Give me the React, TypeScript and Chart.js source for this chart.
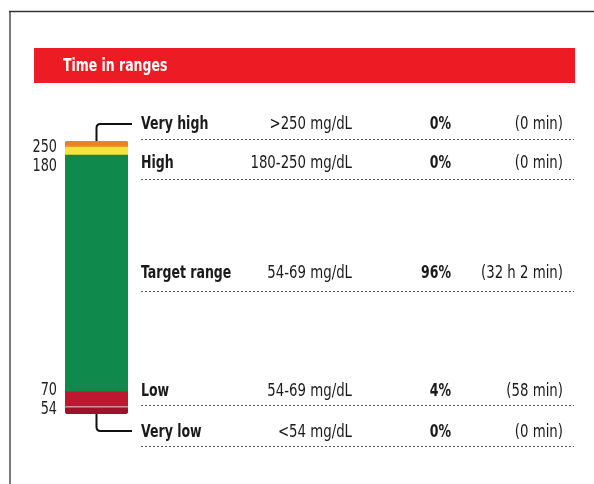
import React, { useEffect, useRef } from "react";
import { Chart, registerables } from "chart.js";

Chart.register(...registerables);

const title = "Time in ranges";
// stacked bottom -> top
const segmentNames = ["Very low", "Low", "Target range", "High", "Very high"];
const segmentHeights = [2.6, 5.5, 86.4, 2.9, 2.2]; // visual share of bar (%)
const segmentColors = ["#a1102b", "#bf1631", "#0f8a4c", "#f6e43c", "#f08022"];

// table rows top -> bottom
const rowLabels = ["Very high", "High", "Target range", "Low", "Very low"];
const rowRanges = [">250 mg/dL", "180-250 mg/dL", "54-69 mg/dL", "54-69 mg/dL", "<54 mg/dL"];
const rowPercents = ["0%", "0%", "96%", "4%", "0%"];
const rowDurations = ["(0 min)", "(0 min)", "(32 h 2 min)", "(58 min)", "(0 min)"];
const tickLabels = ["250", "180", "70", "54"];

const FONT = '"Liberation Sans Narrow", "DejaVu Sans Condensed", "Arial Narrow", sans-serif';

function drawText(
  ctx: CanvasRenderingContext2D,
  text: string,
  x: number,
  y: number,
  align: CanvasTextAlign,
  bold: boolean,
  size: number,
  sx: number,
  color: string
) {
  ctx.save();
  ctx.translate(x, y);
  ctx.scale(sx, 1);
  ctx.font = `${bold ? "bold " : ""}${size}px ${FONT}`;
  ctx.textAlign = align;
  ctx.textBaseline = "middle";
  ctx.fillStyle = color;
  ctx.fillText(text, 0, 0);
  ctx.restore();
}

export default function App() {
  const ref = useRef<HTMLCanvasElement | null>(null);

  useEffect(() => {
    if (!ref.current) return;
    const overlay = {
      id: "overlay",
      beforeDraw(chart: any) {
        const ctx = chart.ctx;
        ctx.save();
        ctx.fillStyle = "#ffffff";
        ctx.fillRect(0, 0, chart.width, chart.height);
        // frame
        ctx.strokeStyle = "#7a7a7a";
        ctx.lineWidth = 2;
        ctx.beginPath();
        ctx.moveTo(10, 484);
        ctx.lineTo(10, 11);
        ctx.stroke();
        ctx.strokeStyle = "#333";
        ctx.lineWidth = 1.5;
        ctx.beginPath();
        ctx.moveTo(9, 11.5);
        ctx.lineTo(594, 11.5);
        ctx.stroke();
        // banner
        ctx.fillStyle = "#ed1c24";
        ctx.fillRect(34, 48, 541, 35);
        ctx.restore();
        drawText(ctx, title, 63, 66, "left", true, 18, 0.77, "#ffffff");
      },
      afterDraw(chart: any) {
        const ctx = chart.ctx;
        const y = chart.scales.y;
        const meta = chart.getDatasetMeta(0);
        const bar = meta.data[0];
        const cx = bar.x;
        const total = segmentHeights.reduce((a, b) => a + b, 0);
        const topPx = y.getPixelForValue(total);
        const botPx = y.getPixelForValue(0);
        ctx.save();
        // separator between very low and low
        ctx.strokeStyle = "rgba(255,255,255,0.8)";
        ctx.lineWidth = 1;
        const sepY = y.getPixelForValue(segmentHeights[0]);
        ctx.beginPath();
        ctx.moveTo(bar.x - bar.width / 2, sepY);
        ctx.lineTo(bar.x + bar.width / 2, sepY);
        ctx.stroke();
        // connectors
        ctx.strokeStyle = "#111";
        ctx.lineWidth = 2;
        ctx.lineJoin = "round";
        const r = 4;
        ctx.beginPath();
        ctx.moveTo(cx, topPx);
        ctx.lineTo(cx, 124 + r);
        ctx.quadraticCurveTo(cx, 124, cx + r, 124);
        ctx.lineTo(132, 124);
        ctx.stroke();
        ctx.beginPath();
        ctx.moveTo(cx, botPx);
        ctx.lineTo(cx, 431 - r);
        ctx.quadraticCurveTo(cx, 431, cx + r, 431);
        ctx.lineTo(132, 431);
        ctx.stroke();
        ctx.restore();

        // tick labels
        const tickYs = [148, 167, 391, 410];
        tickLabels.forEach((t, i) => drawText(ctx, t, 57, tickYs[i], "right", false, 17, 0.84, "#222"));

        // rows
        const rowYs = [125, 164, 274, 392, 433];
        const dashYs = [139, 179, 291, 405, 446];
        const SXB = 0.82;
        const SXR = 0.87;
        rowLabels.forEach((lab, i) => {
          const ry = rowYs[i];
          drawText(ctx, lab, 141, ry, "left", true, 17, SXB, "#1a1a1a");
          drawText(ctx, rowRanges[i], 352, ry, "right", false, 17, SXR, "#1a1a1a");
          drawText(ctx, rowPercents[i], 451, ry, "right", true, 17, SXB, "#1a1a1a");
          drawText(ctx, rowDurations[i], 563, ry, "right", false, 17, SXR, "#1a1a1a");
          ctx.save();
          ctx.strokeStyle = "#555";
          ctx.lineWidth = 1;
          ctx.setLineDash([2, 2]);
          ctx.beginPath();
          ctx.moveTo(141, dashYs[i] + 0.5);
          ctx.lineTo(574, dashYs[i] + 0.5);
          ctx.stroke();
          ctx.restore();
        });
      },
    };

    const last = segmentHeights.length - 1;
    const chart = new Chart(ref.current, {
      type: "bar",
      data: {
        labels: ["TIR"],
        datasets: segmentHeights.map((h, i) => ({
          label: segmentNames[i],
          data: [h],
          backgroundColor: segmentColors[i],
          borderWidth: 0,
          borderSkipped: false,
          borderRadius:
            i === 0
              ? { topLeft: 0, topRight: 0, bottomLeft: 4, bottomRight: 4 }
              : i === last
              ? { topLeft: 4, topRight: 4, bottomLeft: 0, bottomRight: 0 }
              : 0,
          barPercentage: 1,
          categoryPercentage: 1,
        })),
      },
      options: {
        responsive: false,
        animation: false,
        layout: { padding: { left: 65, right: 466, top: 141, bottom: 70 } },
        plugins: { legend: { display: false }, tooltip: { enabled: false } },
        scales: {
          x: { stacked: true, display: false },
          y: {
            stacked: true,
            display: false,
            min: 0,
            max: segmentHeights.reduce((a, b) => a + b, 0),
          },
        },
      },
      plugins: [overlay],
    });
    return () => chart.destroy();
  }, []);

  return (
    <div style={{ position: "absolute", left: 0, top: 0, width: 594, height: 484 }}>
      <canvas ref={ref} width={594} height={484} style={{ display: "block" }} />
    </div>
  );
}
